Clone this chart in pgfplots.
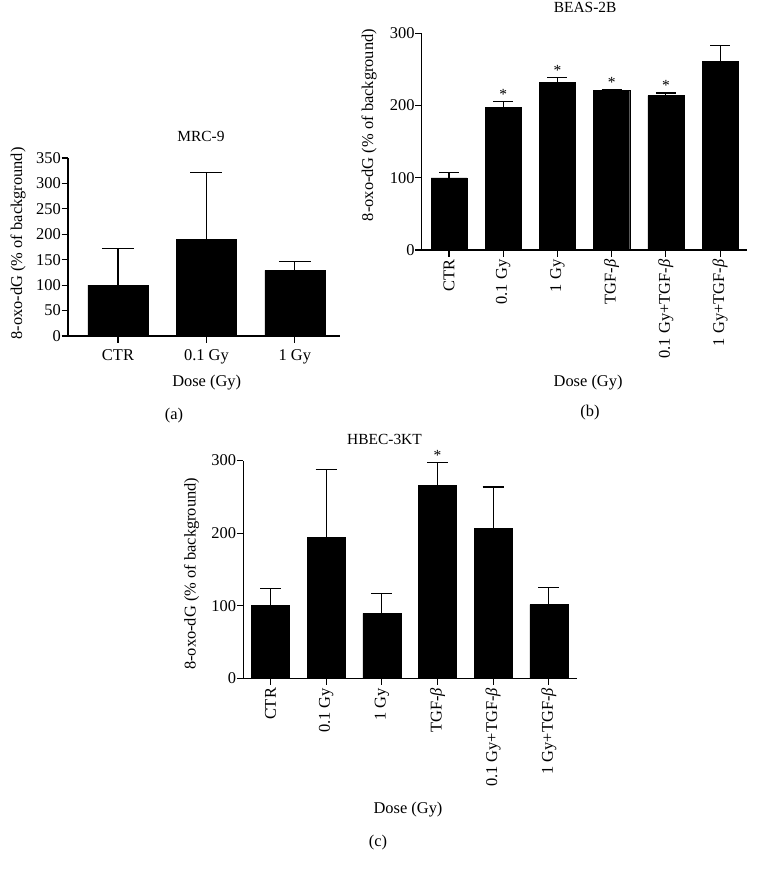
\documentclass[border=0pt]{standalone}
\usepackage{fontspec}
\setmainfont{Liberation Serif}
\usepackage{pgfplots}
\pgfplotsset{compat=1.18}
\newcommand{\tgf}{TGF-\textit{β}}
\pgfplotsset{
  panel/.style={
    scale only axis,
    axis lines=left,
    axis line style={-, line width=1.1bp},
    tick style={line width=1.1bp, black},
    tick align=outside,
    major tick length=6.5bp,
    ymin=0,
    font=\fontsize{16.5}{19}\selectfont,
    /pgf/number format/assume math mode=true,
    yticklabel style={inner sep=0.5bp},
    ylabel={8-oxo-dG (\% of background)},
    xlabel={Dose (Gy)},
    title style={font=\fontsize{15.5}{18}\selectfont},
    clip=false,
    error bars/y dir=plus,
    error bars/y explicit,
    error bars/error bar style={line width=1.1bp},
  },
}
\tikzset{mystar/.style={anchor=base, yshift=2bp, font=\fontsize{15.5}{18}\selectfont}}
\begin{document}
\begin{tikzpicture}[font=\fontsize{16.5}{19}\selectfont]
\useasboundingbox (0,0) rectangle (758bp,-876bp);

% (a) MRC-9
\begin{axis}[panel,
  at={(68bp,-336bp)}, anchor=south west,
  width=272bp, height=178bp,
  xmin=-0.565, xmax=2.51, ymax=350,
  ytick={0,50,...,350},
  xtick={0,1,2}, xticklabels={CTR, 0.1 Gy, 1 Gy},
  xticklabel style={yshift=-3.5bp},
  title={MRC-9},
  title style={at={(axis description cs:0.489,1)}, anchor=center, yshift=16bp},
  xlabel style={at={(axis description cs:0.51,0)}, anchor=center, yshift=-47bp},
  ylabel style={at={(axis description cs:-0.183,0.52)}, anchor=center, rotate=0},
  error bars/error mark options={rotate=90, mark size=16bp, line width=1.1bp},
]
\addplot[ybar, fill=black, draw=black, bar width=0.68] coordinates {
  (0,100) +- (0,72)
  (1,190) +- (0,132)
  (2,129) +- (0,17)
};
\end{axis}

% (b) BEAS-2B
\begin{axis}[panel,
  at={(421.7bp,-250bp)}, anchor=south west,
  width=325bp, height=216.7bp,
  xmin=-0.504, xmax=5.49, ymax=300,
  ytick={0,100,200,300},
  xtick={0,...,5}, xticklabels={CTR, 0.1 Gy, 1 Gy, \tgf, 0.1 Gy+\tgf, 1 Gy+\tgf},
  xticklabel style={rotate=90, anchor=east, inner sep=3bp},
  title={BEAS-2B},
  title style={at={(axis description cs:0.503,1)}, anchor=center, yshift=20bp},
  xlabel style={at={(axis description cs:0.512,0)}, anchor=center, yshift=-133bp},
  ylabel style={at={(axis description cs:-0.162,0.577)}, anchor=center, rotate=0},
  error bars/error mark options={rotate=90, mark size=10bp, line width=1.1bp},
]
\addplot[ybar, fill=black, draw=black, bar width=0.665] coordinates {
  (0,100) +- (0,7)
  (1,197.5) +- (0,8)
  (2,231.7) +- (0,7)
  (3,220.6) +- (0,2)
  (4,213.7) +- (0,3.7)
  (5,260.8) +- (0,22)
};
\node[mystar] at (axis cs:1,205.5) {*};
\node[mystar] at (axis cs:2,238.7) {*};
\node[mystar] at (axis cs:3,222.6) {*};
\node[mystar] at (axis cs:4,217.4) {*};
\end{axis}

% (c) HBEC-3KT
\begin{axis}[panel,
  at={(243.3bp,-678.3bp)}, anchor=south west,
  width=333.4bp, height=217.7bp,
  xmin=-0.49, xmax=5.5, ymax=300,
  ytick={0,100,200,300},
  xtick={0,...,5}, xticklabels={CTR, 0.1 Gy, 1 Gy, \tgf, 0.1 Gy+\tgf, 1 Gy+\tgf},
  xticklabel style={rotate=90, anchor=east, inner sep=3bp},
  title={HBEC-3KT},
  title style={at={(axis description cs:0.4235,1)}, anchor=center, yshift=14.7bp},
  xlabel style={at={(axis description cs:0.494,0)}, anchor=center, yshift=-131.7bp},
  ylabel style={at={(axis description cs:-0.155,0.48)}, anchor=center, rotate=0},
  error bars/error mark options={rotate=90, mark size=10.5bp, line width=1.1bp},
]
\addplot[ybar, fill=black, draw=black, bar width=0.68] coordinates {
  (0,100.6) +- (0,23)
  (1,194.3) +- (0,93.3)
  (2,89.6) +- (0,27.6)
  (3,265.5) +- (0,31.3)
  (4,206.3) +- (0,57.4)
  (5,101.5) +- (0,23.5)
};
\node[mystar] at (axis cs:3,296.8) {*};
\end{axis}

\node at (174bp,-416bp) {(a)};
\node at (590bp,-413bp) {(b)};
\node at (378bp,-843bp) {(c)};
\end{tikzpicture}
\end{document}
